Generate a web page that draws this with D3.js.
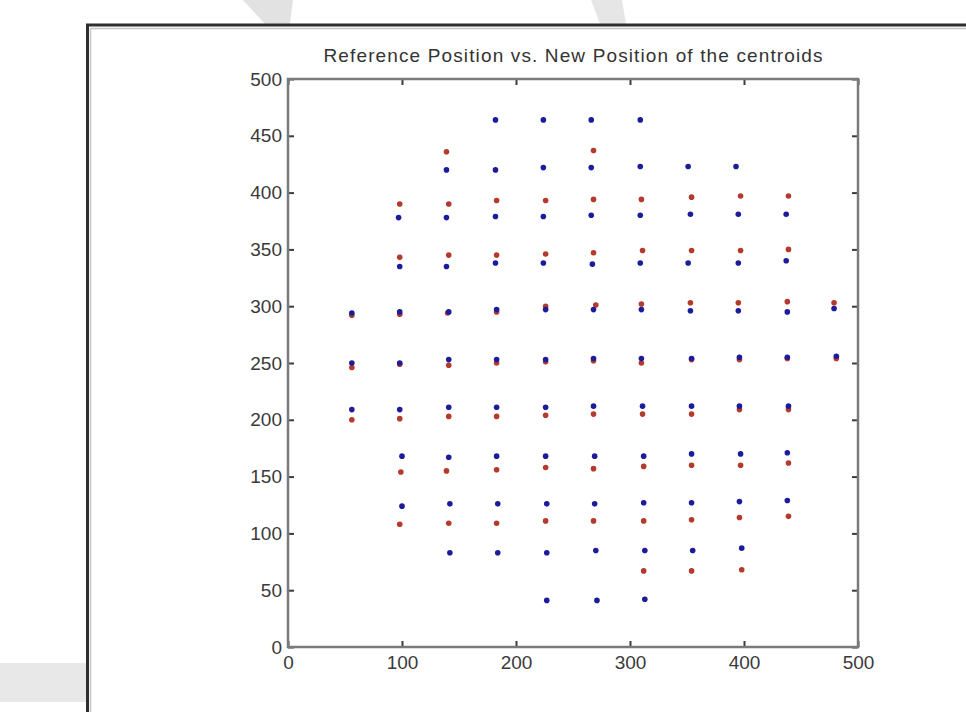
<!DOCTYPE html>
<html>
<head>
<meta charset="utf-8">
<script src="https://cdn.jsdelivr.net/npm/d3@7"></script>
<style>
  html, body { margin: 0; padding: 0; background: #fff; }
  svg { display: block; }
  text { font-family: "Liberation Sans", Arial, Helvetica, sans-serif; }
</style>
</head>
<body>
<svg id="chart" width="966" height="712"></svg>
<script>
// ---- data ----
const chartTitle = "Reference Position vs. New Position of the centroids";
const xTicks = [0, 100, 200, 300, 400, 500];
const yTicks = [0, 50, 100, 150, 200, 250, 300, 350, 400, 450, 500];

// blue: reference positions
const refPoints = [
  [182,464],[224,464],[266,464],[309,464],
  [139,420],[182,420],[224,422],[266,422],[309,423],[351,423],[393,423],
  [97,378],[139,378],[182,379],[224,379],[266,380],[309,380],[353,381],[395,381],[437,381],
  [98,335],[139,335],[182,338],[224,338],[267,337],[309,338],[351,338],[395,338],[437,340],
  [56,294],[98,295],[141,295],[183,297],[226,297],[268,297],[310,297],[353,296],[395,296],[438,295],[479,298],
  [56,250],[98,250],[141,253],[183,253],[226,253],[268,254],[310,254],[354,254],[396,255],[438,255],[481,256],
  [56,209],[98,209],[141,211],[183,211],[226,211],[268,212],[311,212],[354,212],[396,212],[439,212],
  [100,168],[141,167],[183,168],[226,168],[269,168],[312,168],[354,170],[397,170],[438,171],
  [100,124],[142,126],[184,126],[227,126],[269,126],[312,127],[354,127],[396,128],[438,129],
  [142,83],[184,83],[227,83],[270,85],[313,85],[355,85],[398,87],
  [227,41],[271,41],[313,42]
];

// red: new positions
const newPoints = [
  [139,436],[268,437],
  [98,390],[141,390],[183,393],[226,393],[268,394],[310,394],[354,396],[397,397],[439,397],
  [98,343],[141,345],[183,345],[226,346],[268,347],[311,349],[354,349],[397,349],[439,350],
  [56,292],[98,293],[140,294],[183,295],[226,300],[270,301],[310,302],[353,303],[395,303],[438,304],[479,303],
  [56,246],[98,249],[141,248],[183,250],[226,251],[268,252],[310,250],[354,253],[396,253],[438,254],[481,254],
  [56,200],[98,201],[141,203],[183,203],[226,204],[268,205],[311,205],[354,205],[396,209],[439,209],
  [99,154],[139,155],[183,156],[226,158],[268,157],[312,159],[354,160],[397,160],[439,162],
  [98,108],[141,109],[183,109],[226,111],[268,111],[312,111],[354,112],[396,114],[439,115],
  [312,67],[354,67],[398,68]
];

// ---- drawing ----
const svg = d3.select("#chart");

// faint watermark shapes outside the figure frame
svg.append("polygon").attr("points", "243,0 293,0 290,24 265,24").attr("fill", "#e2e2e2");
svg.append("polygon").attr("points", "591,0 622,0 626,24 600,24").attr("fill", "#e6e6e6");
svg.append("rect").attr("x", 0).attr("y", 663).attr("width", 86).attr("height", 39).attr("fill", "#e8e8e8");

// figure frame (extends beyond the window)
svg.append("rect").attr("x", 87.5).attr("y", 25).attr("width", 1000).attr("height", 800)
  .attr("fill", "#fff").attr("stroke", "#2e2e2e").attr("stroke-width", 3);
svg.append("path").attr("d", "M90,28.5H966M90.5,28V712").attr("stroke", "#c4c4c4").attr("stroke-width", 1.5).attr("fill", "none");

const x = d3.scaleLinear().domain([0, 500]).range([288, 858]);
const y = d3.scaleLinear().domain([0, 500]).range([647, 79]);

// title
svg.append("text")
  .attr("x", (x(0) + x(500)) / 2).attr("y", 62)
  .attr("text-anchor", "middle")
  .attr("font-size", 19)
  .attr("textLength", 499).attr("lengthAdjust", "spacing")
  .attr("fill", "#333")
  .text(chartTitle);

// axes (MATLAB style: ticks inward on all four sides)
function styleAxis(g) {
  g.select(".domain").remove();
  g.selectAll(".tick line").attr("stroke", "#3c3c3c").attr("stroke-width", 2);
  g.selectAll(".tick text").attr("fill", "#3a3a3a").attr("font-size", 19)
    .attr("font-family", "'Liberation Sans', Arial, sans-serif");
}
svg.append("g").attr("transform", `translate(0,${y(0)})`)
  .call(d3.axisBottom(x).tickValues(xTicks).tickSize(-6).tickPadding(9).tickFormat(d3.format("d")))
  .call(styleAxis);
svg.append("g").attr("transform", `translate(0,${y(500)})`)
  .call(d3.axisTop(x).tickValues(xTicks).tickSize(-6).tickFormat(""))
  .call(styleAxis);
svg.append("g").attr("transform", `translate(${x(0)},0)`)
  .call(d3.axisLeft(y).tickValues(yTicks).tickSize(-6).tickPadding(6).tickFormat(d3.format("d")))
  .call(styleAxis);
svg.append("g").attr("transform", `translate(${x(500)},0)`)
  .call(d3.axisRight(y).tickValues(yTicks).tickSize(-6).tickFormat(""))
  .call(styleAxis);

// axes box
svg.append("rect")
  .attr("x", x(0)).attr("y", y(500))
  .attr("width", x(500) - x(0)).attr("height", y(0) - y(500))
  .attr("fill", "none").attr("stroke", "#7a7a7a").attr("stroke-width", 2.5);

// points: red (new) first, blue (reference) on top
svg.append("g").selectAll("circle").data(newPoints).join("circle")
  .attr("cx", d => x(d[0])).attr("cy", d => y(d[1])).attr("r", 2.8)
  .attr("fill", "#b53a2e");
svg.append("g").selectAll("circle").data(refPoints).join("circle")
  .attr("cx", d => x(d[0])).attr("cy", d => y(d[1])).attr("r", 2.8)
  .attr("fill", "#1c1c9a");
</script>
</body>
</html>
